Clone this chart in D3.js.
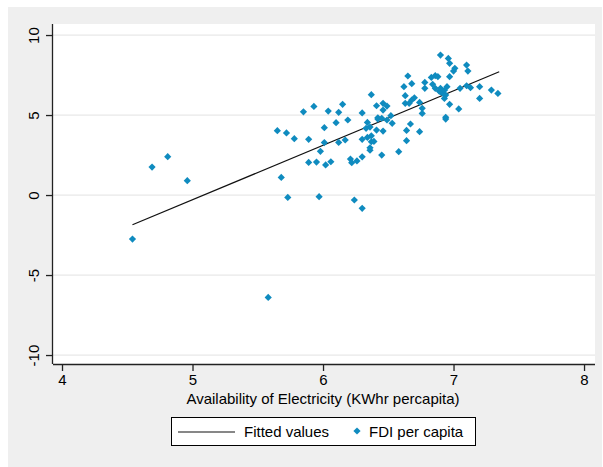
<!DOCTYPE html>
<html lang="en">
	<head>
		<meta charset="utf-8">
		<title>FDI per capita vs availability of electricity</title>
		<script src="https://d3js.org/d3.v7.min.js"></script>
		<style type="text/css">
			body { margin: 0; background: #fff; }
			text { font-family: "Liberation Sans", Arial, sans-serif; fill: #000; }
		</style>
	</head>
	<body>
		<script type="text/javascript">

			//Data
			var elec = [4.54, 4.69, 4.81, 4.96, 5.58, 5.65, 5.72, 5.78, 5.85, 5.93,
						5.68, 5.73, 5.89, 5.89, 5.95, 5.98, 6.01, 6.01, 6.02, 6.06,
						5.97, 6.04, 6.12, 6.15, 6.10, 6.19, 6.12, 6.17, 6.21, 6.22,
						6.26, 6.30, 6.30, 6.37, 6.24, 6.30, 6.41, 6.46, 6.49, 6.42,
						6.45, 6.46, 6.52, 6.49, 6.53, 6.41, 6.46, 6.37, 6.37, 6.36,
						6.45, 6.34, 6.33, 6.36, 6.30, 6.34, 6.39, 6.36, 6.42, 6.58,
						6.64, 6.64, 6.67, 6.74, 6.62, 6.65, 6.68, 6.63, 6.63, 6.68,
						6.70, 6.66, 6.74, 6.76, 6.76, 6.78, 6.78, 6.83, 6.86, 6.88,
						6.84, 6.86, 6.89, 6.90, 6.96, 6.97, 7.01, 7.00, 6.97, 6.90,
						6.92, 6.95, 6.94, 6.93, 6.97, 7.04, 6.94, 6.94, 7.05, 7.10,
						7.11, 7.10, 7.13, 7.20, 7.20, 7.29, 7.34, 6.90, 6.93];
			var fdi = [-2.75, 1.75, 2.40, 0.90, -6.40, 4.02, 3.88, 3.52, 5.20, 5.54,
						1.10, -0.15, 3.48, 2.04, 2.06, 2.73, 3.28, 4.21, 1.88, 2.08,
						-0.10, 5.25, 5.17, 5.67, 4.52, 4.69, 3.29, 3.44, 2.25, 2.02,
						2.13, 2.39, 5.13, 6.27, -0.31, -0.83, 5.58, 5.73, 5.56, 4.83,
						4.80, 5.31, 4.96, 4.69, 4.48, 4.06, 4.00, 3.70, 3.33, 2.95,
						2.50, 4.54, 4.17, 4.25, 3.48, 3.60, 3.35, 2.80, 4.75, 2.71,
						3.40, 4.04, 4.44, 3.96, 6.77, 7.44, 6.96, 6.21, 5.73, 5.94,
						6.08, 5.73, 5.79, 5.42, 5.10, 7.04, 6.67, 7.35, 7.46, 7.40,
						6.92, 6.67, 6.50, 8.75, 8.54, 8.23, 7.92, 7.75, 7.40, 6.67,
						6.35, 6.77, 6.25, 6.04, 5.67, 5.38, 4.86, 4.75, 6.67, 8.12,
						7.75, 6.83, 6.71, 6.77, 6.04, 6.56, 6.35, 6.45, 6.55];

			//Fitted values (ends of the regression line)
			var fitX = [4.54, 7.35];
			var fitY = [-1.86, 7.71];

			var xTicks = [4, 5, 6, 7, 8];
			var yTicks = [-10, -5, 0, 5, 10];

			var w = 603;
			var h = 467;
			var plot = { left: 53, right: 595, top: 24, bottom: 364 };
			var dotColor = "#0f8bbf";
			var fontSize = "15px";

			var x = d3.scaleLinear()
					  .domain([3.931, 8.084])
					  .range([plot.left, plot.right]);
			var y = d3.scaleLinear()
					  .domain([-10.56, 10.69])
					  .range([plot.bottom, plot.top]);

			//plain hyphen for negatives, as in the original
			var fmt = function (d) { return String(d); };

			var svg = d3.select("body")
						.append("svg")
						.attr("width", w)
						.attr("height", h);

			//outer grey region and white plot region
			svg.append("rect")
			   .attr("x", 8).attr("y", 7)
			   .attr("width", 594).attr("height", 460)
			   .attr("fill", "#efefef");
			svg.append("rect")
			   .attr("x", plot.left).attr("y", plot.top)
			   .attr("width", plot.right - plot.left)
			   .attr("height", plot.bottom - plot.top)
			   .attr("fill", "#fff");

			//grid lines
			svg.selectAll("line.grid")
			   .data(yTicks)
			   .enter()
			   .append("line")
			   .attr("class", "grid")
			   .attr("x1", plot.left)
			   .attr("x2", plot.right)
			   .attr("y1", function (d) { return y(d); })
			   .attr("y2", function (d) { return y(d); })
			   .attr("stroke", "#e8e8e8")
			   .attr("stroke-width", 1.2);

			//axes
			var xAxis = d3.axisBottom(x).tickValues(xTicks).tickFormat(fmt).tickSize(7).tickPadding(3);
			var yAxis = d3.axisLeft(y).tickValues(yTicks).tickFormat(fmt).tickSize(7);

			var gx = svg.append("g")
						.attr("transform", "translate(0," + plot.bottom + ")")
						.call(xAxis);
			gx.select(".domain").attr("d", "M" + plot.left + ",0.5H" + plot.right);
			gx.selectAll("text").style("font-size", fontSize).attr("font-family", null);

			var gy = svg.append("g")
						.attr("transform", "translate(" + plot.left + ",0)")
						.call(yAxis);
			gy.select(".domain").attr("d", "M-0.5," + plot.top + "V" + plot.bottom);
			gy.selectAll("text")
			  .style("font-size", fontSize)
			  .attr("font-family", null)
			  .attr("x", null).attr("dy", null)
			  .attr("text-anchor", "middle")
			  .attr("transform", "translate(-14,0) rotate(-90)");

			svg.selectAll(".domain, .tick line").attr("stroke", "#222").attr("stroke-width", 1.3);

			//axis title
			svg.append("text")
			   .attr("x", (plot.left + plot.right) / 2 - 1)
			   .attr("y", 404)
			   .attr("text-anchor", "middle")
			   .style("font-size", fontSize)
			   .text("Availability of Electricity (KWhr percapita)");

			//fitted line
			var line = d3.line()
						 .x(function (d) { return x(d[0]); })
						 .y(function (d) { return y(d[1]); });
			svg.append("path")
			   .datum(d3.zip(fitX, fitY))
			   .attr("d", line)
			   .attr("fill", "none")
			   .attr("stroke", "#111")
			   .attr("stroke-width", 1.2);

			//diamonds
			var r = 3.6;
			var diamond = "M0," + (-r) + "L" + r + ",0L0," + r + "L" + (-r) + ",0Z";
			svg.selectAll("path.dot")
			   .data(d3.zip(elec, fdi))
			   .enter()
			   .append("path")
			   .attr("class", "dot")
			   .attr("d", diamond)
			   .attr("transform", function (d) { return "translate(" + x(d[0]) + "," + y(d[1]) + ")"; })
			   .attr("fill", dotColor);

			//legend
			var legend = svg.append("g");
			legend.append("rect")
				  .attr("x", 171.5).attr("y", 417.5)
				  .attr("width", 304).attr("height", 28)
				  .attr("fill", "#fff")
				  .attr("stroke", "#000")
				  .attr("stroke-width", 1);
			legend.append("line")
				  .attr("x1", 178).attr("x2", 235)
				  .attr("y1", 432).attr("y2", 432)
				  .attr("stroke", "#111").attr("stroke-width", 1.2);
			legend.append("text")
				  .attr("x", 244).attr("y", 437)
				  .style("font-size", fontSize)
				  .text("Fitted values");
			legend.append("path")
				  .attr("d", diamond)
				  .attr("transform", "translate(357,431)")
				  .attr("fill", dotColor);
			legend.append("text")
				  .attr("x", 369).attr("y", 437)
				  .style("font-size", fontSize)
				  .text("FDI per capita");

		</script>
	</body>
</html>
